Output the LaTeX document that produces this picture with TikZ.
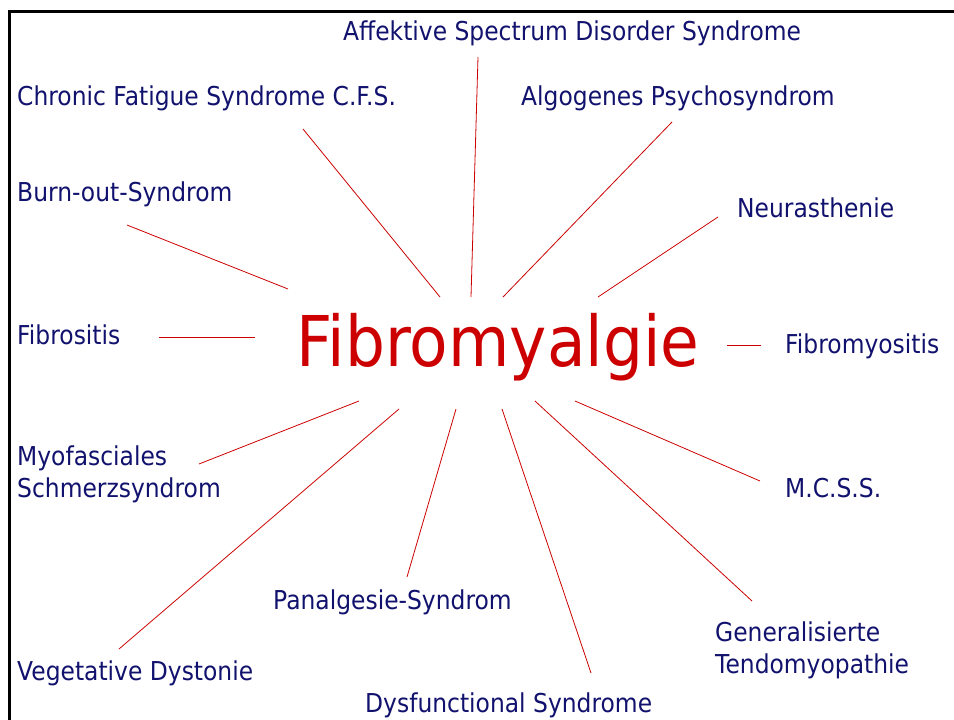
\documentclass[tikz,border=0pt]{standalone}
\usepackage{fontspec}
\setmainfont{DejaVu Sans}[FakeStretch=0.9]
\definecolor{navy}{RGB}{17,17,110}
\definecolor{fred}{RGB}{204,0,0}
\begin{document}
\begin{tikzpicture}[x=1pt,y=-1pt,
  lbl/.style={anchor=base west,inner sep=0pt,text=navy,font=\fontsize{26}{32}\selectfont,align=left},
  ray/.style={draw=fred,line width=0.8pt},
  frame/.style={draw=black,line width=3pt}]
\useasboundingbox (0,0) rectangle (954,720);
\draw[frame] (9,722) -- (9,11) -- (956,11);
% centre
\node[anchor=base west,inner sep=0pt,text=fred,font=\fontsize{70}{80}\selectfont] (fm) at (296,366) {Fibromyalgie};
% labels
\node[lbl] (asd) at (343,41) {Affektive Spectrum Disorder Syndrome};
\node[lbl] (cfs) at (17,105) {Chronic Fatigue Syndrome C.F.S.};
\node[lbl] (alg) at (521,105) {Algogenes Psychosyndrom};
\node[lbl] (bos) at (17,201) {Burn-out-Syndrom};
\node[lbl] (neu) at (737,217) {Neurasthenie};
\node[lbl] (fbs) at (17,344) {Fibrositis};
\node[lbl] (fmy) at (785,353) {Fibromyositis};
\node[lbl] (mys) at (17,497) {Myofasciales\\Schmerzsyndrom};
\node[lbl] (mcs) at (785,497) {M.C.S.S.};
\node[lbl] (pan) at (273,609) {Panalgesie-Syndrom};
\node[lbl] (gen) at (715,673) {Generalisierte\\Tendomyopathie};
\node[lbl] (veg) at (17,680) {Vegetative Dystonie};
\node[lbl] (dys) at (365,712) {Dysfunctional Syndrome};
% ray end points
\coordinate (cfs-o) at (303,129); \coordinate (cfs-i) at (440,297);
\coordinate (asd-o) at (478,57);  \coordinate (asd-i) at (471,297);
\coordinate (alg-o) at (672,122); \coordinate (alg-i) at (503,297);
\coordinate (neu-o) at (718,217); \coordinate (neu-i) at (598,297);
\coordinate (bos-o) at (127,225); \coordinate (bos-i) at (288,289);
\coordinate (fbs-o) at (159,337); \coordinate (fbs-i) at (255,337);
\coordinate (fmy-o) at (761,345); \coordinate (fmy-i) at (727,345);
\coordinate (mys-o) at (199,464); \coordinate (mys-i) at (359,401);
\coordinate (veg-o) at (119,649); \coordinate (veg-i) at (399,409);
\coordinate (pan-o) at (407,577); \coordinate (pan-i) at (456,409);
\coordinate (dys-o) at (591,673); \coordinate (dys-i) at (502,409);
\coordinate (gen-o) at (752,601); \coordinate (gen-i) at (535,401);
\coordinate (mcs-o) at (760,481); \coordinate (mcs-i) at (575,401);
\foreach \n in {cfs,asd,alg,neu,bos,fbs,fmy,mys,veg,pan,dys,gen,mcs}
  \draw[ray] (\n-o) -- (\n-i);
\end{tikzpicture}
\end{document}
